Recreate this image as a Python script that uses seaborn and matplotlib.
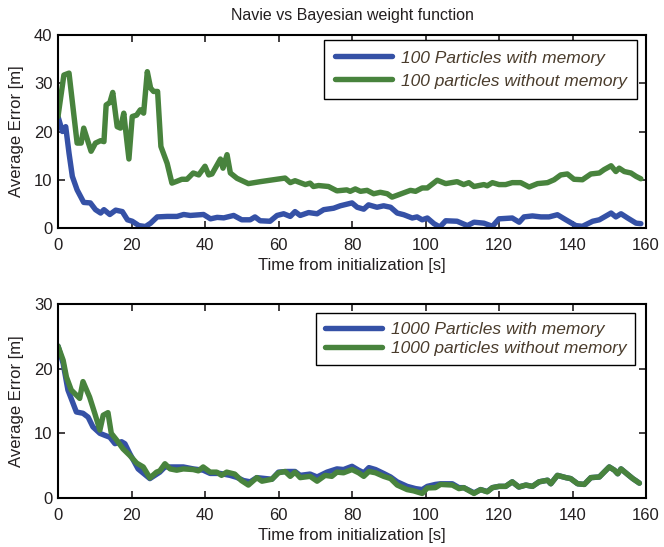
import matplotlib
matplotlib.use("Agg")
import matplotlib.pyplot as plt
import seaborn as sns
import pandas as pd

# ---------------- data ----------------
top_blue_t = [0, 1.2, 2.1, 3, 3.9, 5.2, 7, 8.8, 10.2, 11.6, 12.5, 14.1, 15.7, 17.5, 18.9, 20.2, 22, 23.8, 25.2, 27,
              29.7, 32.4, 34.2, 36, 39.6, 41.5, 43.3, 45.1, 47.8, 50, 52.3, 53.6, 55, 57.7, 59.6, 61.4, 63.2, 64.5, 65.9, 68.2,
              70.5, 72.3, 75, 76.8, 80, 81.4, 83.2, 84.5, 86.8, 88.6, 90.5, 92.3, 94.1, 96.4, 97.7, 99.1, 100.5, 102.3, 103.9, 105.5,
              108.6, 111.4, 113.2, 115.9, 118.2, 120, 123.6, 125.5, 126.8, 129.1, 131.4, 133.6, 135.9, 138.2, 140.9, 142.7, 145.5, 147.3, 150.5, 151.8,
              153.2, 155, 157.3, 158.6]
top_blue_v = [23.1, 20, 21, 15.5, 10.7, 7.9, 5.3, 5.2, 3.8, 3.1, 3.8, 2.8, 3.7, 3.4, 1.7, 1.4, 0.5, 0.3, 1, 2.3,
              2.4, 2.4, 2.8, 2.6, 2.8, 1.9, 2.2, 2.1, 2.6, 1.7, 1.7, 2.3, 1.5, 1.4, 2.6, 2.95, 2.4, 3.4, 2.6, 3.2,
              2.95, 3.8, 4.1, 4.6, 5.2, 4.3, 3.9, 4.8, 4.3, 4.6, 4.3, 3.1, 2.75, 2.07, 2.3, 1.7, 2.07, 0.9, 0.2, 1.5,
              1.4, 0.5, 1.2, 1.0, 0.35, 1.9, 2.07, 1.2, 2.3, 2.5, 2.3, 2.3, 2.75, 1.7, 0.5, 0.35, 1.4, 1.7, 3.1, 2.3,
              2.95, 2.07, 1.0, 0.9]

top_green_t = [0, 1.6, 3, 5.2, 6.3, 7, 9, 10.2, 11.6, 12.5, 13.1, 14.1, 14.9, 16.1, 17, 17.9, 18.4, 19.3, 20.2, 21.4,
               22.4, 23.3, 24.3, 25.2, 26, 27.1, 28, 29.7, 31, 32.4, 33.7, 35.1, 36.8, 38.3, 40, 41, 41.9, 44.2, 44.9, 46,
               46.9, 48.7, 51.8, 55, 58.6, 61.8, 63.2, 64.5, 67.3, 68.6, 69.5, 70.9, 73.6, 75.9, 78.6, 79.5, 80.9, 82.3, 84.1, 85.9,
               87.7, 89.6, 90.9, 92.7, 95.9, 97.3, 99.1, 100.5, 103.2, 105.5, 108.6, 110.4, 111.8, 113.2, 115.9, 116.8, 118.2, 120, 121.8, 123.6,
               125.9, 128.2, 130.5, 133.2, 135, 136.8, 138.6, 140.4, 142.7, 145, 147.3, 148.6, 150.5, 151.8, 152.7, 154.1, 155.9, 157.3, 158.6]
top_green_v = [23.1, 31.7, 32.1, 17.6, 17.6, 20.7, 15.9, 17.6, 18.1, 17.9, 25.5, 26, 28.1, 21, 20.7, 23.8, 20.3, 14.3, 23.1, 23.4,
               24.5, 23.8, 32.4, 29, 28.3, 28.3, 16.9, 13.4, 9.3, 9.7, 10.1, 10.1, 11.4, 11, 12.8, 11, 11.2, 14.3, 12.4, 15.2,
               11.4, 10.3, 9.2, 9.6, 10, 10.35, 9.4, 9.8, 9, 9.3, 8.6, 8.8, 8.6, 7.7, 7.9, 7.6, 8.1, 7.6, 7.8, 7.1,
               7.4, 7.1, 6.4, 6.9, 7.8, 7.6, 8.3, 8.3, 9.9, 9.2, 9.6, 9.0, 9.4, 8.6, 9.0, 8.75, 9.4, 9.0, 9.0, 9.4,
               9.4, 8.5, 9.2, 9.4, 10, 11, 11.2, 10.1, 10, 11.2, 11.4, 12.1, 12.9, 11.7, 12.4, 11.7, 11.4, 10.7, 10.2]

bot_blue_t = [0, 1.4, 2.7, 5, 6.8, 8.2, 9.5, 11.4, 12.7, 14.1, 15.5, 17.3, 18.2, 19.5, 21.8, 25, 27.7, 29.1, 31.4, 34.1,
              36.8, 39.5, 41.4, 44.1, 46.8, 48.6, 50.5, 52.3, 54.1, 58.2, 60, 62.3, 64.5, 65.9, 68.6, 70.5, 73.2, 75.9, 77.7, 80,
              81.8, 83.2, 84.6, 86.4, 88.6, 90.5, 92.3, 95, 97.3, 99.1, 100.5, 102.7, 104.1, 107.3, 109.1, 110.4, 113.2, 115, 116.8, 118.2,
              120, 121.8, 123.6, 125.4, 127.3, 129.1, 130.9, 133.2, 134.1, 135.9, 138.2, 139.5, 141.4, 143.2, 145, 147.3, 148.6, 150, 151.4, 152.3,
              153.2, 155, 156.4, 158.2]
bot_blue_v = [23.5, 20.8, 16.7, 13.3, 13.1, 12.5, 11, 10, 9.7, 9.4, 8.4, 8.7, 8.4, 6.9, 4.5, 3, 4, 4.8, 4.8, 4.8,
              4.5, 4.3, 3.8, 3.8, 3.5, 3.2, 2.7, 2.5, 3.15, 2.9, 4.0, 4.1, 4.1, 3.5, 3.7, 3.25, 4.0, 4.5, 4.4, 4.9,
              4.3, 3.9, 4.7, 4.4, 3.8, 3.25, 2.5, 1.8, 1.45, 1.3, 1.8, 2.1, 2.2, 2.2, 1.6, 1.6, 0.8, 1.3, 1.0, 1.6,
              1.8, 1.8, 2.5, 1.7, 2.0, 1.8, 2.5, 2.75, 2.2, 3.5, 3.15, 3.0, 2.2, 2.1, 3.15, 3.25, 4.0, 4.8, 4.3, 3.75,
              4.5, 3.65, 3.0, 2.3]

bot_green_t = [0, 1.4, 2.3, 3.6, 5.9, 6.8, 8.6, 10, 11.4, 12.3, 13.6, 14.5, 15.9, 17.7, 19.5, 21.4, 23.2, 25, 26.8, 27.7,
               29.1, 30.5, 32.3, 34.1, 36.8, 38.2, 39.5, 41.4, 43.2, 44.5, 45.9, 48.1, 49.9, 51.8, 54.1, 55.5, 58.2, 60, 61.8, 63.2,
               64.5, 65.9, 68.6, 70.5, 72.7, 74.5, 75.9, 77.7, 80, 81.8, 83.2, 84.6, 86.4, 88.6, 90.5, 92.3, 95, 96.8, 99.1, 100.5,
               102.7, 104.1, 107.3, 109.1, 110.4, 113.2, 115, 116.8, 118.2, 120, 121.8, 123.6, 125.4, 127.3, 129.1, 130.9, 133.2, 134.1, 135.9, 138.2,
               139.5, 141.4, 143.2, 145, 147.3, 148.6, 150, 151.4, 152.3, 153.2, 155, 156.4, 158.2]
bot_green_v = [23.5, 21.3, 18.7, 16.7, 15.4, 18, 15.6, 13.1, 10.5, 12.8, 13.2, 10, 9, 7.6, 6.6, 5.4, 4.8, 3.1, 4, 4.2,
               5.3, 4.5, 4.3, 4.5, 4.4, 4.2, 4.8, 4, 4, 3.5, 4, 3.7, 2.7, 2, 3.15, 2.6, 2.9, 3.9, 4.1, 3.35,
               4.0, 3.15, 3.35, 2.6, 3.5, 3.35, 4.0, 3.9, 4.4, 3.9, 3.35, 4.1, 3.9, 3.35, 3.0, 2.0, 1.3, 1.1, 0.7, 1.55,
               1.6, 2.1, 2.0, 1.45, 1.6, 0.7, 1.3, 0.95, 1.6, 1.8, 1.8, 2.5, 1.7, 2.0, 1.8, 2.5, 2.75, 2.2, 3.5, 3.15,
               3.0, 2.2, 2.1, 3.15, 3.25, 4.0, 4.8, 4.3, 3.75, 4.5, 3.65, 3.0, 2.3]

top_labels = ["100 Particles with memory", "100 particles without memory"]
bot_labels = ["1000 Particles with memory", "1000 particles without memory"]
title = "Navie vs Bayesian weight function"
xlabel = "Time from initialization [s]"
ylabel = "Average Error [m]"
top_yticks = [0, 10, 20, 30, 40]
bot_yticks = [0, 10, 20, 30]
xticks = [0, 20, 40, 60, 80, 100, 120, 140, 160]

# ---------------- style ----------------
sns.set_theme(style="ticks")
plt.rcParams['font.family'] = ['Liberation Sans', 'DejaVu Sans']
BLUE = "#3551a6"
GREEN = "#48833d"
TXT = "#231f20"
LEG_TXT = "#4a3c2c"
LW = 3.9

fig = plt.figure(figsize=(6.64, 5.47), dpi=100)
fig.patch.set_facecolor("white")
ax1 = fig.add_axes([58 / 664, 1 - 228 / 547, 588 / 664, 193 / 547])
ax2 = fig.add_axes([58 / 664, 1 - 498 / 547, 588 / 664, 194 / 547])


def make_df(tb, vb, tg, vg, labels):
    d1 = pd.DataFrame({"t": tb, "err": vb, "series": labels[0]})
    d2 = pd.DataFrame({"t": tg, "err": vg, "series": labels[1]})
    return pd.concat([d1, d2], ignore_index=True)


def draw(ax, df, labels, yticks, ylim, leg_anchor, bpad, lspace):
    sns.lineplot(data=df, x="t", y="err", hue="series", hue_order=labels,
                 palette=[BLUE, GREEN], linewidth=LW, estimator=None,
                 sort=False, ax=ax, legend=True)
    ax.set_xlim(0, 160)
    ax.set_ylim(*ylim)
    ax.set_xticks(xticks)
    ax.set_yticks(yticks)
    ax.tick_params(direction="in", length=5, width=1.2, top=True, right=True,
                   labelsize=12, colors=TXT)
    ax.tick_params(axis="x", pad=7.5)
    ax.tick_params(axis="y", pad=4)
    ax.tick_params(axis="both", labelcolor=TXT)
    for s in ax.spines.values():
        s.set_linewidth(1.5)
        s.set_color("black")
        s.set_visible(True)
    ax.set_xlabel(xlabel, fontsize=12, color=TXT, labelpad=3)
    ax.set_ylabel(ylabel, fontsize=12, color=TXT, labelpad=7)
    handles, labs = ax.get_legend_handles_labels()
    leg = ax.legend(handles, labs, loc="upper right", bbox_to_anchor=leg_anchor,
                    bbox_transform=fig.transFigure, borderaxespad=0,
                    fancybox=False, framealpha=1, edgecolor="black",
                    handlelength=3.3, handletextpad=0.5, borderpad=bpad,
                    labelspacing=lspace, prop={"style": "italic", "size": 12.5})
    leg.get_frame().set_linewidth(1.0)
    for txt in leg.get_texts():
        txt.set_color(LEG_TXT)
    for ln in leg.get_lines():
        ln.set_linewidth(LW)


draw(ax1, make_df(top_blue_t, top_blue_v, top_green_t, top_green_v, top_labels),
     top_labels, top_yticks, (0, 40), (637 / 664, 1 - 40 / 547), 0.6, 0.45)
draw(ax2, make_df(bot_blue_t, bot_blue_v, bot_green_t, bot_green_v, bot_labels),
     bot_labels, bot_yticks, (0, 30), (635 / 664, 1 - 313 / 547), 0.5, 0.25)

ax1.set_title(title, fontsize=11.5, color=TXT, pad=11)

fig.savefig("out.png", dpi=100, facecolor="white")
